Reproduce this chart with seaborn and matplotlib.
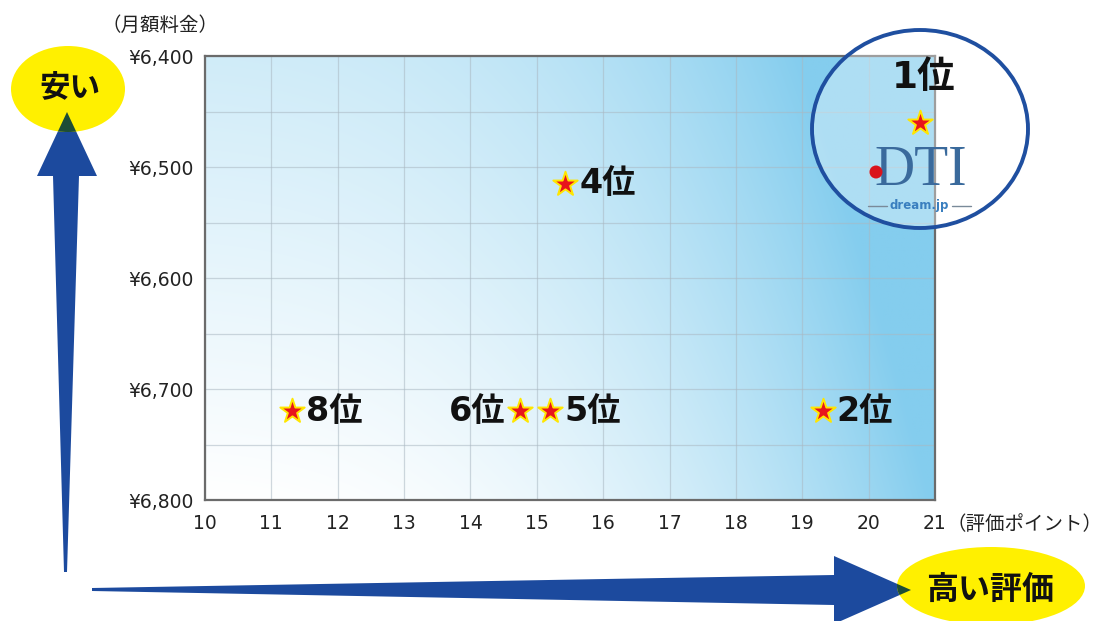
import numpy as np
import matplotlib
matplotlib.use("Agg")
import matplotlib.pyplot as plt
import seaborn as sns
import pandas as pd
from matplotlib.patches import Polygon, Ellipse, Circle
from matplotlib.transforms import IdentityTransform
from matplotlib.colors import to_rgb
from matplotlib.lines import Line2D

# ---------------- data ----------------
ranks = ["1位", "2位", "4位", "5位", "6位", "8位"]
score = [20.78, 19.31, 15.43, 15.2, 14.74, 11.31]
price = [6460, 6720, 6515, 6720, 6720, 6720]
label_side = ["top", "right", "right", "right", "left", "right"]
x_ticks = list(range(10, 22))
y_ticks = [6400, 6500, 6600, 6700, 6800]
y_tick_labels = ["¥6,400", "¥6,500", "¥6,600", "¥6,700", "¥6,800"]
x_title = "（評価ポイント）"
y_title = "（月額料金）"
cheap_label = "安い"
good_label = "高い評価"

W, H = 1107, 621
sns.set_theme(style="white")
plt.rcParams["font.family"] = ["Noto Sans CJK JP", "DejaVu Sans"]
LATIN_FIRST = ["DejaVu Sans", "Noto Sans CJK JP"]

fig = plt.figure(figsize=(W / 100, H / 100), dpi=100)
ax = fig.add_axes([205 / W, 1 - 500 / H, (935 - 205) / W, (500 - 56) / H])

# background gradient
nx, ny = 400, 250
xn = np.linspace(0, 1, nx)[None, :]
yn = np.linspace(1, 0, ny)[:, None]  # row 0 = top
t = np.clip(0.95 * xn ** 2.5 + 0.38 * yn + 0.06 * xn, 0, 1)
c0 = np.array(to_rgb("#ffffff"))
c1 = np.array(to_rgb("#84cdee"))
img = c0[None, None, :] * (1 - t[..., None]) + c1[None, None, :] * t[..., None]
ax.imshow(img, extent=[10, 21, 6800, 6400], aspect="auto", zorder=0, interpolation="bilinear")

df = pd.DataFrame({"score": score, "price": price, "rank": ranks})
sns.scatterplot(data=df, x="score", y="price", marker="*", s=340, color="#e8141c",
                edgecolor="#ffe600", linewidth=1.4, ax=ax, zorder=8, legend=False)

ax.set_xlim(10, 21)
ax.set_ylim(6800, 6400)
ax.set_xticks(x_ticks)
ax.set_xticklabels([str(v) for v in x_ticks])
ax.set_yticks(y_ticks)
ax.set_yticklabels(y_tick_labels)
ax.set_yticks(np.arange(6450, 6800, 100), minor=True)
ax.tick_params(axis="both", which="both", length=0, labelsize=13.5, colors="#222222")
for lab in ax.get_xticklabels() + ax.get_yticklabels():
    lab.set_family(LATIN_FIRST)
ax.tick_params(axis="x", pad=10)
ax.tick_params(axis="y", pad=8)
ax.grid(True, which="both", color="#aab8c2", linewidth=0.9, alpha=0.55)
ax.set_axisbelow(False)
for im in ax.images:
    im.set_zorder(0)
for ln in ax.get_xgridlines() + ax.get_ygridlines():
    ln.set_zorder(1)
ax.set_xlabel("")
ax.set_ylabel("")
for side, sp in ax.spines.items():
    sp.set_color("#6b6b6b")
    sp.set_linewidth(1.6)
    sp.set_zorder(3)

ID = IdentityTransform()
def P(x, y):
    return (x, H - y)

# circle around 1st place with DTI logo (drawn inside the axes, unclipped)
ring = Ellipse(P(920, 129), 216, 198, facecolor=(1, 1, 1, 0.35), edgecolor="#1f4fa0",
               linewidth=2.8, transform=ID, zorder=5, clip_on=False)
ax.add_artist(ring)
ax.text(921, H - 171, "DTI", ha="center", va="center", fontsize=40, transform=ID,
        family="Liberation Serif", color="#3a6a9c", zorder=6, clip_on=False)
ax.add_artist(Circle(P(876, 172), 6.5, facecolor="#d9141c", edgecolor="none", transform=ID,
                     zorder=7, clip_on=False))
ax.add_artist(Line2D([868, 887], [H - 206, H - 206], color="#7a8a99", linewidth=1, transform=ID,
                     zorder=6, clip_on=False))
ax.add_artist(Line2D([952, 971], [H - 206, H - 206], color="#7a8a99", linewidth=1, transform=ID,
                     zorder=6, clip_on=False))
ax.text(919.5, H - 206, "dream.jp", ha="center", va="center", fontsize=8.5, transform=ID,
        fontweight="bold", color="#3a7fbf", family="DejaVu Sans", zorder=6, clip_on=False)

# rank labels
for r, xv, yv, side in zip(ranks, score, price, label_side):
    kw = dict(textcoords="offset points", va="center", fontweight="bold", color="#111111",
              zorder=9, family=LATIN_FIRST, annotation_clip=False)
    if side == "right":
        ax.annotate(r, (xv, yv), xytext=(10, 0), ha="left", fontsize=24, **kw)
    elif side == "left":
        ax.annotate(r, (xv, yv), xytext=(-10, 0), ha="right", fontsize=24, **kw)
    else:
        ax.annotate(r, (xv, yv), xytext=(2, 32), ha="center", fontsize=27, **kw)

# axis titles
fig.text(160 / W, 1 - 25 / H, y_title, ha="center", va="center", fontsize=14, color="#222222")
fig.text(1024 / W, 1 - 524 / H, x_title, ha="center", va="center", fontsize=14, color="#222222")

blue = "#1c4a9e"
vpts = [P(64, 572), P(67, 572), P(79, 176), P(97, 176), P(67, 112), P(37, 176), P(53, 176)]
varrow = Polygon(vpts, closed=True, facecolor=blue, edgecolor="none", transform=ID, zorder=2)
fig.add_artist(varrow)
hpts = [P(92, 588), P(92, 591), P(834, 605), P(834, 624), P(911, 590), P(834, 556), P(834, 575)]
harrow = Polygon(hpts, closed=True, facecolor=blue, edgecolor="none", transform=ID, zorder=2)
fig.add_artist(harrow)

yellow = "#fff000"
e1 = Ellipse(P(68, 89), 114, 86, facecolor=yellow, edgecolor="none", transform=ID, zorder=3)
fig.add_artist(e1)
e2 = Ellipse(P(991, 586), 188, 78, facecolor=yellow, edgecolor="none", transform=ID, zorder=3)
fig.add_artist(e2)
for pts, e in ((vpts, e1), (hpts, e2)):
    ov = Polygon(pts, closed=True, facecolor="#1d4d36", edgecolor="none", transform=ID, zorder=3.5)
    fig.add_artist(ov)
    ov.set_clip_path(e)

fig.text(70 / W, 1 - 88 / H, cheap_label, ha="center", va="center", fontsize=22,
         fontweight="bold", color="#111111", zorder=4)
fig.text(990 / W, 1 - 590 / H, good_label, ha="center", va="center", fontsize=23,
         fontweight="bold", color="#111111", zorder=4)

fig.savefig("out.png", dpi=100)
